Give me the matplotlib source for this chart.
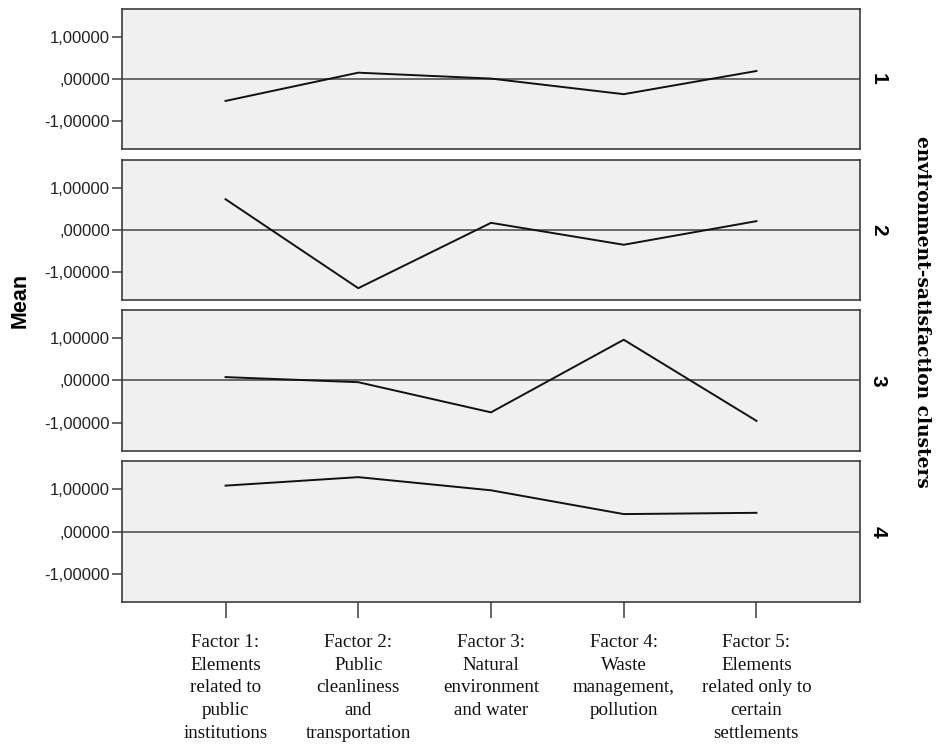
import matplotlib
matplotlib.use("Agg")
import matplotlib.pyplot as plt

factors = [
    "Factor 1:\nElements\nrelated to\npublic\ninstitutions",
    "Factor 2:\nPublic\ncleanliness\nand\ntransportation",
    "Factor 3:\nNatural\nenvironment\nand water",
    "Factor 4:\nWaste\nmanagement,\npollution",
    "Factor 5:\nElements\nrelated only to\ncertain\nsettlements",
]
clusters = ["1", "2", "3", "4"]
cluster1 = [-0.52, 0.15, 0.01, -0.36, 0.19]
cluster2 = [0.73, -1.38, 0.17, -0.35, 0.21]
cluster3 = [0.08, -0.04, -0.75, 0.96, -0.95]
cluster4 = [1.08, 1.28, 0.97, 0.41, 0.44]
yticks = [-1.0, 0.0, 1.0]
ytick_labels = ["-1,00000", ",00000", "1,00000"]

W, H = 939, 746
fig = plt.figure(figsize=(W / 100, H / 100), dpi=100)

# panel pixel extents (top, bottom)
panels = [(9, 149), (160, 300), (310, 451), (461, 602)]
left_px, right_px = 122, 860
edge = "#3c3c3c"

x = list(range(len(factors)))
for i, (means, (top, bot)) in enumerate(zip([cluster1, cluster2, cluster3, cluster4], panels)):
    ax = fig.add_axes([left_px / W, 1 - bot / H, (right_px - left_px) / W, (bot - top) / H])
    ax.set_facecolor("#f0f0f0")
    ax.axhline(0, color="#444444", lw=1.1, zorder=1)
    ax.plot(x, means, color="#111111", lw=1.4, zorder=2)
    ax.set_xlim(-0.78, 4.78)
    ax.set_ylim(-1.66, 1.66)
    ax.set_yticks(yticks)
    ax.set_yticklabels(ytick_labels, fontsize=12, family="Liberation Sans", color="#222222")
    ax.tick_params(axis="y", length=7, width=1.1, color=edge, pad=1.5)
    for s in ax.spines.values():
        s.set_color(edge)
        s.set_linewidth(1.2)
    ax.text(1.012, 0.5, clusters[i], transform=ax.transAxes, rotation=-90,
            ha="left", va="center", fontsize=15, fontweight="bold",
            family="Liberation Sans")
    if i < 3:
        ax.set_xticks([])
    else:
        ax.set_xticks(x)
        ax.set_xticklabels(factors, fontsize=13.7, family="Liberation Serif",
                           linespacing=1.44, color="#111111")
        ax.tick_params(axis="x", length=11.5, width=1.1, color=edge, pad=11.5)

fig.text(20 / W, 1 - 300 / H, "Mean", rotation=90, ha="center", va="center",
         fontsize=15.5, fontweight="bold", family="Liberation Sans")
fig.text(922 / W, 1 - 312 / H, "environment-satisfaction clusters", rotation=-90,
         ha="center", va="center", fontsize=13.4, fontweight="bold",
         family="DejaVu Serif")

fig.savefig("out.png", dpi=100)
